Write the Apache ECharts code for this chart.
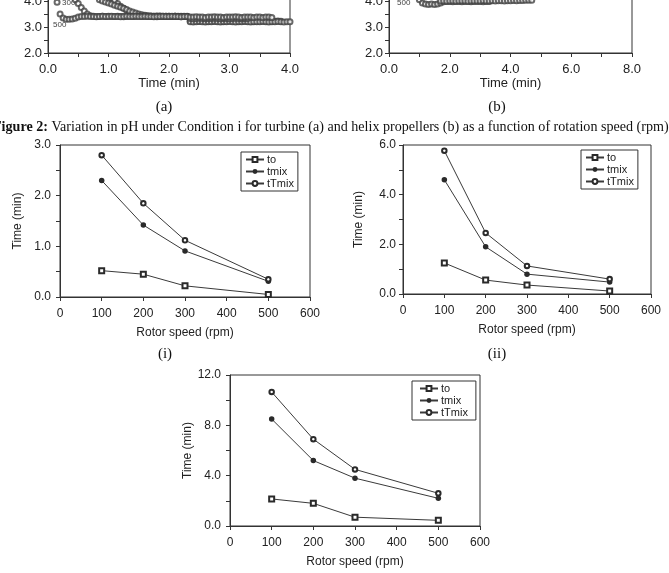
<!DOCTYPE html>
<html><head><meta charset="utf-8">
<script src="https://cdn.jsdelivr.net/npm/echarts@6/dist/echarts.min.js"></script>
<style>html,body{margin:0;padding:0;background:#fff}#c{width:669px;height:573px}</style>
</head><body><div id="c"></div><script>
// ---------- DATA ----------
// (a) turbine pH curves (time in min)
const timeA = [0.00,0.05,0.10,0.15,0.20,0.25,0.30,0.35,0.40,0.45,
  0.50,0.55,0.60,0.65,0.70,0.75,0.80,0.85,0.90,0.95,
  1.00,1.05,1.10,1.15,1.20,1.25,1.30,1.35,1.40,1.45,
  1.50,1.55,1.60,1.65,1.70,1.75,1.80,1.85,1.90,1.95,
  2.00,2.05,2.10,2.15,2.20,2.25,2.30,2.35,2.40,2.45,
  2.50,2.55,2.60,2.65,2.70,2.75,2.80,2.85,2.90,2.95,
  3.00,3.05,3.10,3.15,3.20,3.25,3.30,3.35,3.40,3.45,
  3.50,3.55,3.60,3.65,3.70,3.75,3.80,3.85,3.90,3.95,
  4.00];
const phA500 = [null,null,4.50,3.95,3.50,3.35,3.30,3.30,3.31,3.34,
  3.38,3.40,3.40,3.41,3.40,3.40,3.39,3.40,3.41,3.40,
  3.40,3.41,3.40,3.40,3.39,3.40,3.41,3.40,3.40,3.41,
  3.40,3.40,3.41,3.40,3.40,3.39,3.40,3.40,3.41,3.40,
  3.40,3.41,3.40,3.40,3.39,3.40,3.40,3.38,3.38,3.39,
  3.38,3.38,3.37,3.38,3.38,3.39,3.38,3.38,3.37,3.38,
  3.38,3.38,3.39,3.38,3.37,3.38,3.38,3.38,3.37,3.38,
  3.38,3.37,3.38,3.38,3.37,null,null,null,null,null,
  null];
const phA300 = [null,null,null,null,null,null,null,null,4.30,4.05,
  3.90,3.75,3.62,3.50,3.43,3.41,3.40,3.40,3.41,3.40,
  3.41,3.40,3.40,3.41,3.40,3.39,3.40,3.41,3.40,3.40,
  3.41,3.40,3.40,3.40,3.41,3.40,3.39,3.40,3.40,3.41,
  3.40,3.40,3.41,3.40,3.39,3.40,3.40,3.33,3.32,3.33,
  3.34,3.33,3.32,3.33,3.33,3.34,3.33,3.32,3.33,3.33,
  3.32,3.33,3.34,3.33,3.32,3.33,3.33,null,null,null,
  null,null,null,null,null,null,null,null,null,null,
  null];
const phA200 = [null,null,null,null,null,null,null,null,null,null,
  null,null,null,null,null,null,null,4.05,4.00,3.96,
  3.92,3.88,3.84,3.80,3.76,3.72,3.67,3.62,3.58,3.54,
  3.50,3.47,3.45,3.43,3.42,3.41,3.41,3.42,3.41,3.40,
  3.41,3.40,3.41,3.41,3.40,3.41,3.40,3.20,3.19,3.20,
  3.21,3.20,3.19,3.20,3.20,3.21,3.20,3.19,3.20,3.20,
  3.21,3.20,3.19,3.20,3.20,3.21,3.20,3.19,3.20,3.20,
  3.20,3.21,3.20,3.19,3.20,3.20,3.21,3.20,3.19,3.20,
  3.20];
const phA100 = [null,null,null,null,null,null,null,null,null,null,
  null,null,null,null,null,null,null,null,null,null,
  null,4.10,4.00,3.90,3.80,3.72,3.63,3.55,3.48,3.44,
  3.46,3.45,3.43,3.42,3.41,3.41,3.42,3.41,3.40,3.41,
  3.41,3.40,3.41,3.40,3.41,3.40,3.41,3.23,3.22,3.23,
  3.22,3.23,3.22,3.21,3.22,3.23,3.22,3.22,3.21,3.22,
  3.23,3.22,3.22,3.21,3.22,3.23,3.22,3.22,3.21,3.22,
  3.22,3.23,3.22,3.22,3.21,3.22,3.23,3.22,null,null,
  null];
// (b) helix pH curves
const timeB = [1.0,1.1,1.2,1.3,1.4,1.5,1.6,1.7,1.8,1.9,
  2.0,2.1,2.2,2.3,2.4,2.5,2.6,2.7,2.8,2.9,
  3.0,3.1,3.2,3.3,3.4,3.5,3.6,3.7,3.8,3.9,
  4.0,4.1,4.2,4.3,4.4,4.5,4.6,4.7];
const phB500 = [4.05,3.92,3.88,3.87,3.88,3.87,3.88,3.92,3.97,3.98,
  3.98,3.97,3.98,3.98,3.97,3.98,3.98,3.97,3.98,3.98,
  3.98,3.97,3.98,3.98,null,null,null,null,null,null,
  null,null,null,null,null,null,null,null];
const phB300 = [null,null,null,null,null,null,null,4.00,4.00,3.99,
  4.00,4.00,3.99,4.00,4.00,4.00,3.99,4.00,4.00,4.00,
  4.00,4.01,4.00,4.00,4.01,4.00,4.01,4.01,4.00,4.01,
  4.01,4.02,4.01,4.02,4.02,4.03,4.03,4.03];

// Mixing times vs rotor speed
const rpm = [100,200,300,500];
const to_i = [0.52,0.45,0.22,0.05];
const tmix_i = [2.30,1.42,0.91,0.31];
const tTmix_i = [2.80,1.85,1.12,0.35];
const to_ii = [1.25,0.56,0.36,0.12];
const tmix_ii = [4.60,1.90,0.80,0.48];
const tTmix_ii = [5.77,2.46,1.13,0.60];
const to_iii = [2.15,1.80,0.70,0.45];
const tmix_iii = [8.50,5.20,3.80,2.20];
const tTmix_iii = [10.65,6.90,4.50,2.60];
const legendNames = ['to','tmix','tTmix'];

// ---------- CHART ----------
const SANS = '"Liberation Sans", Arial, sans-serif';
const SERIF = '"Liberation Serif", "Times New Roman", serif';
const INK = '#222';
const LINE = '#333';

function pairs(xs, ys){ const out=[]; xs.forEach((x,i)=>{ if(ys[i]!=null) out.push([x, ys[i]]); }); return out; }

function xAx(gi, min, max, interval, minorSplit, digits, name, fs, nameGap, margin){
  return {type:'value', gridIndex:gi, min, max, interval,
    name, nameLocation:'middle', nameGap,
    nameTextStyle:{fontFamily:SANS,fontSize:fs,color:INK},
    axisLine:{show:true,onZero:false,lineStyle:{color:LINE,width:1}},
    axisTick:{show:true,length:4,lineStyle:{color:LINE,width:1}},
    minorTick:{show:minorSplit>1,splitNumber:minorSplit||1,length:4,lineStyle:{color:LINE,width:1}},
    axisLabel:{fontFamily:SANS,fontSize:fs,color:INK,margin,formatter:v=>v.toFixed(digits)},
    splitLine:{show:false}, minorSplitLine:{show:false}};
}
function yAx(gi, min, max, interval, minorSplit, name, fs, nameGap, margin){
  return xAx(gi, min, max, interval, minorSplit, 1, name, fs, nameGap, margin);
}
function gridAt(left, top, width, height){
  return {left, top, width, height, show:true, borderColor:LINE, borderWidth:1,
    backgroundColor:'transparent', containLabel:false, outerBoundsMode:'none'};
}
function legendAt(left, top, padding){
  return {show:true, orient:'vertical', left, top, padding, itemGap:1,
    itemWidth:18, itemHeight:6, borderColor:LINE, borderWidth:1, borderRadius:0,
    backgroundColor:'#fff', selectedMode:false,
    textStyle:{fontFamily:SANS,fontSize:11,color:INK, padding:[0,0,0,-2]},
    data:legendNames};
}
function dotSeries(name, gi, data){
  return {type:'scatter', name, xAxisIndex:gi, yAxisIndex:gi, data,
    symbol:'emptyCircle', symbolSize:5,
    itemStyle:{color:'#444', borderWidth:0.7}, silent:true};
}
const lineStyles = {
  to:{symbol:'emptyRect', symbolSize:5},
  tmix:{symbol:'circle', symbolSize:5.5},
  tTmix:{symbol:'emptyCircle', symbolSize:4.5}
};
function mixSeries(name, gi, ys){
  return {type:'line', name, xAxisIndex:gi, yAxisIndex:gi, data:pairs(rpm, ys),
    symbol:lineStyles[name].symbol, symbolSize:lineStyles[name].symbolSize,
    showSymbol:true, itemStyle:{color:'#2a2a2a', borderWidth:0.8},
    lineStyle:{color:'#3a3a3a', width:1}, silent:true, animation:false};
}

const chart = echarts.init(document.getElementById('c'), null, {renderer:'canvas'});
chart.setOption({
  animation:false,
  backgroundColor:'#fff',
  grid:[
    gridAt(48, -51, 242, 104),
    gridAt(389, -51, 243, 104),
    gridAt(60, 145, 250, 152),
    gridAt(403, 145, 248, 149),
    gridAt(230, 375, 250, 151)
  ],
  xAxis:[
    xAx(0, 0, 4, 1, 2, 1, 'Time (min)', 13, 24, 10),
    xAx(1, 0, 8, 2, 2, 1, 'Time (min)', 13, 24, 10),
    xAx(2, 0, 600, 100, 0, 0, 'Rotor speed (rpm)', 12, 30, 11),
    xAx(3, 0, 600, 100, 0, 0, 'Rotor speed (rpm)', 12, 30, 11),
    xAx(4, 0, 600, 100, 0, 0, 'Rotor speed (rpm)', 12, 30, 11)
  ],
  yAxis:[
    yAx(0, 2, 6, 1, 2, '', 13, 30, 6),
    yAx(1, 2, 6, 1, 2, '', 13, 30, 6),
    yAx(2, 0, 3, 1, 2, 'Time (min)', 12, 36, 9),
    yAx(3, 0, 6, 2, 2, 'Time (min)', 12, 38, 7),
    yAx(4, 0, 12, 4, 2, 'Time (min)', 12, 36, 9)
  ],
  legend:[
    legendAt(241, 152, [2,4,2,4]),
    legendAt(581, 150, [2,4,2,4]),
    legendAt(412, 381, [2,8,2,7])
  ],
  series:[
    dotSeries('100 rpm', 0, pairs(timeA, phA100)),
    dotSeries('200 rpm', 0, pairs(timeA, phA200)),
    dotSeries('300 rpm', 0, pairs(timeA, phA300)),
    dotSeries('500 rpm', 0, pairs(timeA, phA500)),
    dotSeries('500 rpm b', 1, pairs(timeB, phB500)),
    dotSeries('300 rpm b', 1, pairs(timeB, phB300)),
    mixSeries('to', 2, to_i), mixSeries('tmix', 2, tmix_i), mixSeries('tTmix', 2, tTmix_i),
    mixSeries('to', 3, to_ii), mixSeries('tmix', 3, tmix_ii), mixSeries('tTmix', 3, tTmix_ii),
    mixSeries('to', 4, to_iii), mixSeries('tmix', 4, tmix_iii), mixSeries('tTmix', 4, tTmix_iii)
  ],
  graphic:[
    {type:'text', x:62, y:3, style:{text:'300', fontFamily:SANS, fontSize:8, fill:'#444', verticalAlign:'middle'}},
    {type:'text', x:53, y:25, style:{text:'500', fontFamily:SANS, fontSize:8, fill:'#444', verticalAlign:'middle'}},
    {type:'text', x:397, y:3, style:{text:'500', fontFamily:SANS, fontSize:8, fill:'#444', verticalAlign:'middle'}},
    {type:'text', x:164, y:107, style:{text:'(a)', fontFamily:SERIF, fontSize:15, fill:'#111', align:'center', verticalAlign:'middle'}},
    {type:'text', x:497, y:107, style:{text:'(b)', fontFamily:SERIF, fontSize:15, fill:'#111', align:'center', verticalAlign:'middle'}},
    {type:'text', x:-7, y:127, style:{
      text:'{b|Figure 2:} Variation in pH under Condition i for turbine (a) and helix propellers (b) as a function of rotation speed (rpm)',
      fontFamily:SERIF, fontSize:14.1, fill:'#111', verticalAlign:'middle',
      rich:{b:{fontWeight:'bold', fontFamily:SERIF, fontSize:14.1, fill:'#111'}}}},
    {type:'text', x:165, y:354, style:{text:'(i)', fontFamily:SERIF, fontSize:15, fill:'#111', align:'center', verticalAlign:'middle'}},
    {type:'text', x:497, y:354, style:{text:'(ii)', fontFamily:SERIF, fontSize:15, fill:'#111', align:'center', verticalAlign:'middle'}}
  ]
});
</script></body></html>
